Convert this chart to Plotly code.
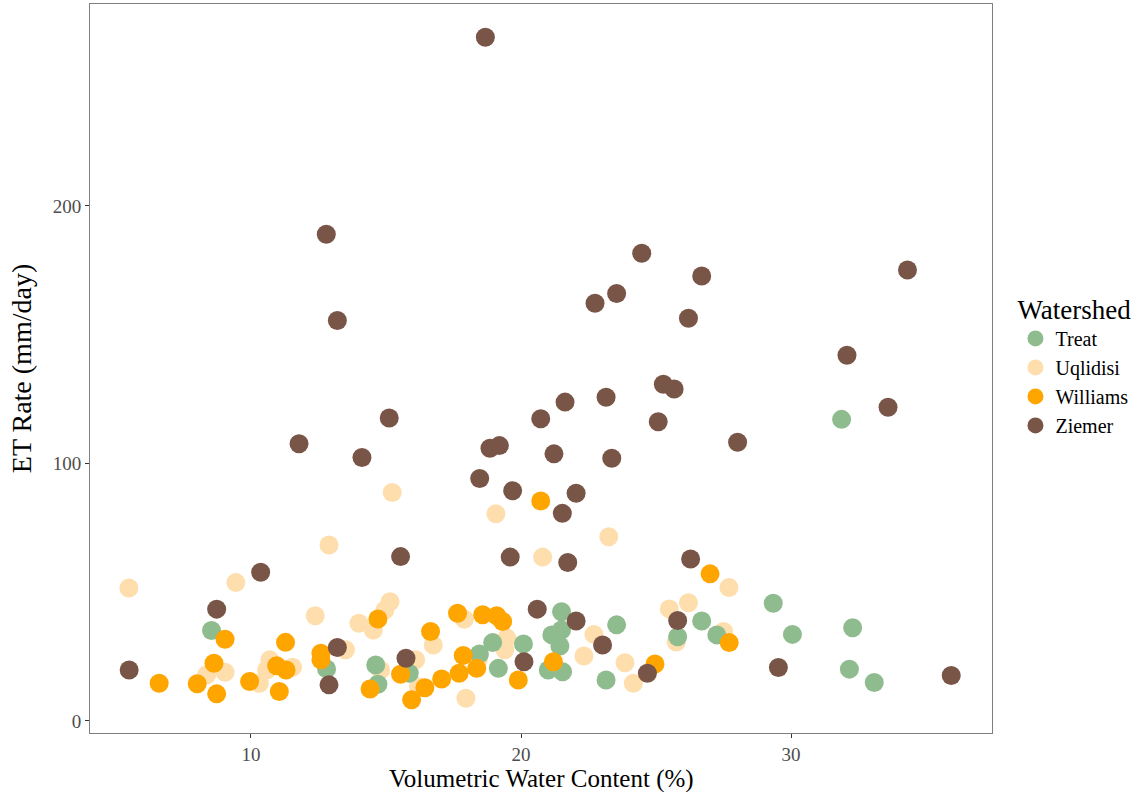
import plotly.graph_objects as go

# Volumetric water content (%) and ET rate (mm/day) per watershed
treat_vwc = [8.54, 12.8, 14.62, 14.7, 15.86, 18.95, 18.46, 20.09, 19.16, 21.14, 21.5, 21.44,
             21.5, 21.01, 21.54, 23.54, 23.15, 25.8, 26.69, 27.25, 29.34, 30.05, 32.28,
             32.16, 33.08, 31.87]
treat_et = [35.1, 20.2, 21.7, 14.2, 18.5, 30.4, 26.0, 29.9, 20.4, 33.4, 35.3, 29.1,
            42.4, 19.8, 19.1, 37.3, 15.9, 32.7, 38.8, 33.4, 45.7, 33.6, 36.2,
            20.1, 14.9, 117.1]

uql_vwc = [5.48, 9.44, 12.89, 12.38, 14.0, 14.53, 15.15, 14.96, 13.5, 14.8, 8.36, 9.04,
           10.31, 10.7, 10.58, 11.54, 15.23, 19.07, 20.8, 23.25, 17.9, 16.75, 19.47,
           19.4, 18.42, 22.7, 22.33, 16.1, 16.2, 17.96, 23.85, 24.16, 25.49, 25.75,
           26.2, 27.7, 27.5]
uql_et = [51.6, 53.7, 68.3, 40.8, 37.9, 35.3, 46.3, 43.1, 27.6, 19.8, 17.9, 18.9,
          14.6, 23.7, 19.8, 20.8, 88.7, 80.4, 63.6, 71.5, 39.5, 29.5, 32.1,
          27.6, 23.7, 33.6, 25.2, 23.7, 13.3, 8.8, 22.6, 14.6, 43.5, 30.6,
          45.9, 51.8, 34.7]

wil_vwc = [6.6, 8.01, 8.63, 8.73, 9.04, 9.95, 10.95, 11.05, 11.3, 11.28, 12.59, 12.59,
           14.41, 14.7, 15.54, 15.95, 16.44, 16.65, 17.06, 17.71, 17.86, 18.36, 17.65,
           18.58, 19.1, 19.32, 19.9, 21.2, 20.73, 24.96, 27.0, 27.71]
wil_et = [14.6, 14.4, 22.4, 10.5, 31.7, 15.3, 21.4, 11.4, 19.8, 30.5, 26.3, 23.7,
          12.4, 39.6, 18.1, 8.2, 12.9, 34.7, 16.3, 18.5, 25.4, 20.4, 41.8,
          41.2, 40.8, 38.6, 15.9, 23.0, 85.4, 22.1, 57.1, 30.4]

zie_vwc = [5.49, 8.73, 10.36, 13.2, 12.89, 15.54, 15.74, 19.6, 21.73, 20.6, 22.04, 20.11,
           23.02, 24.68, 25.8, 26.28, 29.53, 35.93, 18.68, 12.79, 13.2, 15.12, 11.78,
           14.11, 18.85, 19.2, 18.47, 19.69, 24.47, 26.69, 23.54, 22.74, 26.2, 34.31,
           32.07, 33.59, 25.27, 25.67, 21.63, 23.15, 20.73, 25.08, 28.02, 21.22, 23.36,
           22.04, 21.53]
zie_et = [19.8, 43.4, 57.7, 28.5, 14.0, 63.8, 24.3, 63.6, 61.5, 43.4, 38.8, 23.0,
          29.5, 18.5, 39.0, 62.9, 20.7, 17.6, 265.5, 189.0, 155.5, 117.6, 107.6,
          102.3, 105.9, 106.9, 94.1, 89.4, 181.6, 172.8, 166.0, 162.2, 156.4, 175.1,
          142.0, 121.8, 130.7, 128.9, 123.8, 125.7, 117.3, 116.2, 108.2, 103.7, 102.0,
          88.4, 80.6]

x_ticks = [10, 20, 30]
y_ticks = [0, 100, 200]

series = [
    ("Uqlidisi", uql_vwc, uql_et, "#FFDEAD", 2),
    ("Treat", treat_vwc, treat_et, "#8FBC8F", 1),
    ("Williams", wil_vwc, wil_et, "#FFA500", 3),
    ("Ziemer", zie_vwc, zie_et, "#795548", 4),
]

fig = go.Figure()
for name, xs, ys, color, rank in series:
    fig.add_trace(go.Scatter(
        x=xs, y=ys, mode="markers", name=name, legendrank=rank,
        marker=dict(size=19, color=color, line=dict(width=0)),
    ))

serif = "Liberation Serif, Times New Roman, serif"
axis_common = dict(
    showgrid=False, zeroline=False, showline=True, mirror=True,
    linecolor="#7f7f7f", linewidth=1, automargin=False,
    ticks="outside", ticklen=4, tickcolor="#333333", tickwidth=1,
    tickfont=dict(family=serif, size=19, color="#4d4d4d"),
)

fig.update_layout(
    width=1148, height=792,
    margin=dict(l=90, r=156, t=4, b=59),
    paper_bgcolor="white", plot_bgcolor="white",
    font=dict(family=serif, color="black"),
    xaxis=dict(range=[4.04, 37.44], tickvals=x_ticks, **axis_common),
    yaxis=dict(range=[-4.7, 278.4], tickvals=y_ticks,
               title=dict(text="ET Rate (mm/day)", font=dict(size=28), standoff=12),
               **axis_common),
    legend=dict(
        title=dict(text="Watershed", font=dict(size=27)),
        font=dict(size=20), x=1.026, xanchor="left", y=0.505, yanchor="middle",
        itemsizing="trace", tracegroupgap=0,
    ),
)

# x-axis title placed as a paper annotation below the tick labels
fig.add_annotation(
    text="Volumetric Water Content (%)", xref="paper", yref="paper",
    x=0.5, y=-0.0625, xanchor="center", yanchor="middle", showarrow=False,
    font=dict(family=serif, size=25, color="black"),
)

fig.write_html("out.html")
